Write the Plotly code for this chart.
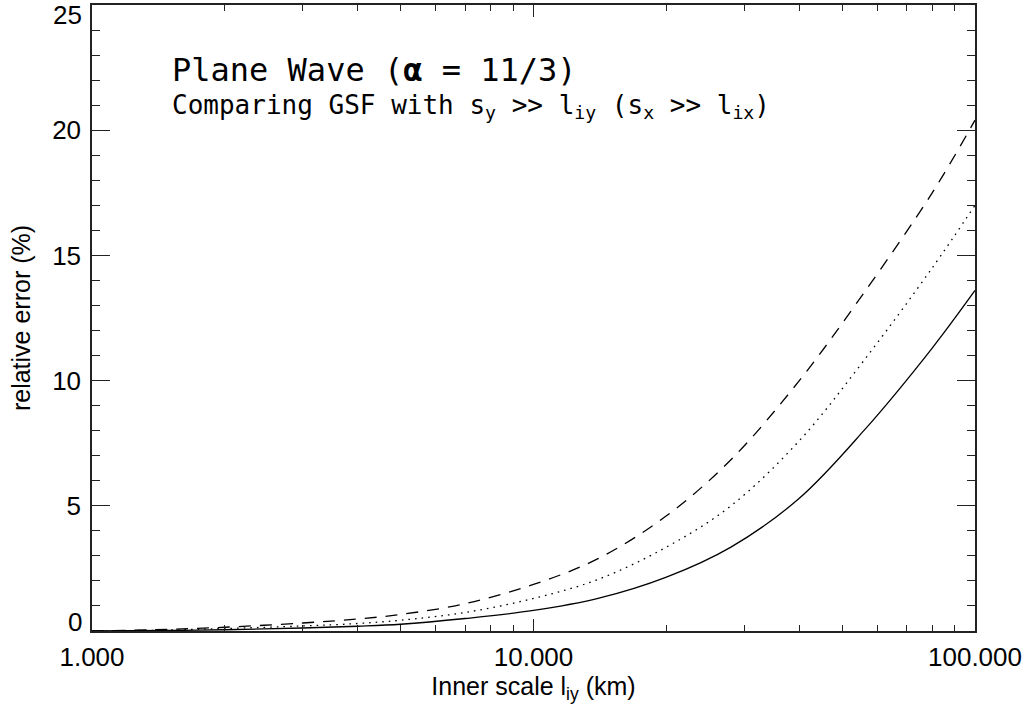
import plotly.graph_objects as go

inner_scale = [1, 1.5, 2, 3, 4, 5, 7, 10, 14, 20, 28, 40, 56, 80, 100]
err_dashed = [0.0, 0.07, 0.15, 0.32, 0.48, 0.66, 1.09, 1.86, 2.89, 4.6, 6.84, 10.0, 13.5, 17.5, 20.4]
err_dotted = [0.0, 0.04, 0.1, 0.2, 0.3, 0.43, 0.74, 1.3, 2.06, 3.35, 5.0, 7.6, 10.8, 14.5, 17.0]
err_solid = [0.0, 0.02, 0.05, 0.12, 0.19, 0.27, 0.5, 0.82, 1.3, 2.15, 3.35, 5.3, 8.0, 11.3, 13.6]

x_tickvals = [1, 10, 100]
x_ticktext = ["1.000", "10.000", "100.000"]
x_minor = [2, 3, 4, 5, 6, 7, 8, 9, 20, 30, 40, 50, 60, 70, 80, 90]
y_tickvals = [0, 5, 10, 15, 20]
y_ticktext = ["", "5", "10", "15", "20"]
y_bottom_label = "0"
y_top_label = "25"

fig = go.Figure()
for vals, dash in [(err_solid, "solid"), (err_dotted, "1.6px,5px"), (err_dashed, "12px,9px")]:
    fig.add_trace(go.Scatter(x=inner_scale, y=vals, mode="lines",
                             line=dict(color="black", width=1.3, dash=dash, shape="spline"),
                             showlegend=False))

sans = "Liberation Sans"
tick_font = dict(family=sans, size=26, color="black")
title_font = dict(family=sans, size=25, color="black")
fig.update_layout(
    width=1025, height=710,
    margin=dict(l=92, r=50, t=3, b=79),
    paper_bgcolor="white", plot_bgcolor="white",
    font=dict(family=sans, size=22, color="black"),
    xaxis=dict(type="log", range=[0, 2], tickvals=x_tickvals, ticktext=x_ticktext,
               tickfont=tick_font, ticklabelstandoff=2,
               ticks="inside", ticklen=12, tickwidth=1.3, tickcolor="#222",
               showline=True, linecolor="#222", linewidth=1.5, mirror="ticks",
               showgrid=False, zeroline=False,
               minor=dict(tickvals=x_minor, ticks="inside", ticklen=6, tickwidth=1.3,
                          tickcolor="#222", showgrid=False),
               title=dict(text="Inner scale l<sub>iy</sub> (km)", font=title_font, standoff=2)),
    yaxis=dict(range=[0, 25], tickvals=y_tickvals, ticktext=y_ticktext,
               tickfont=tick_font, ticklabelstandoff=4,
               ticks="inside", ticklen=18, tickwidth=1.3, tickcolor="#222",
               showline=True, linecolor="#222", linewidth=1.5, mirror="ticks",
               showgrid=False, zeroline=False,
               minor=dict(dtick=1, ticks="inside", ticklen=8, tickwidth=1.3,
                          tickcolor="#222", showgrid=False),
               title=dict(text="relative error (%)", font=title_font, standoff=14)),
)

fig.add_annotation(xref="paper", yref="paper", x=0, y=1, xanchor="right", yanchor="middle",
                   xshift=-8, yshift=-10, text=y_top_label, showarrow=False, font=tick_font)
fig.add_annotation(xref="paper", yref="paper", x=0, y=0, xanchor="right", yanchor="middle",
                   xshift=-8, yshift=9, text=y_bottom_label, showarrow=False, font=tick_font)

mono = "DejaVu Sans Mono"
fig.add_annotation(xref="paper", yref="paper", x=0.088, y=0.896, xanchor="left", yanchor="middle",
                   text="Plane Wave (<b>α</b> = 11/3)", showarrow=False,
                   font=dict(family=mono, size=32, color="black"))
fig.add_annotation(xref="paper", yref="paper", x=0.088, y=0.838, xanchor="left", yanchor="middle",
                   text="Comparing GSF with s<sub>y</sub> >> l<sub>iy</sub> (s<sub>x</sub> >> l<sub>ix</sub>)",
                   showarrow=False,
                   font=dict(family=mono, size=26, color="black"))

fig.write_html("out.html")
